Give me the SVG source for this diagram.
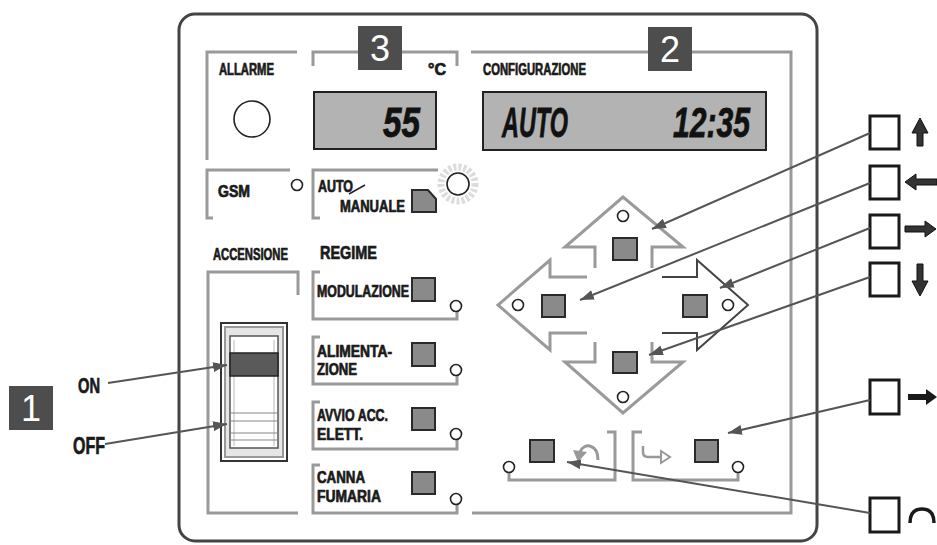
<svg xmlns="http://www.w3.org/2000/svg" width="937" height="545" viewBox="0 0 937 545">
<style>
.g{fill:none;stroke:#9a9a9a;stroke-width:3}
.t{font-family:"Liberation Sans",Arial,sans-serif;font-weight:bold;fill:#1a1a1a;stroke:#1a1a1a;stroke-width:0.7}
.d{font-family:"Liberation Sans",Arial,sans-serif;font-weight:bold;font-style:italic;fill:#111;stroke:#111;stroke-width:0.8;font-size:43px}
.sq{fill:#8a8a8a;stroke:#2a2a2a;stroke-width:2}
.c{fill:#fff;stroke:#222;stroke-width:1.6}
.badge{fill:#4d4d4d}
.bt{font-family:"Liberation Sans",Arial,sans-serif;fill:#fff;font-size:36px;text-anchor:middle}
.lb{fill:#fff;stroke:#1a1a1a;stroke-width:3}
.cn{fill:none;stroke:#555;stroke-width:2;marker-end:url(#ah)}
.sym{fill:#333;stroke:#111;stroke-width:1}
</style>
<defs>
<marker id="ah" viewBox="0 0 14 10" refX="14" refY="5" markerWidth="14" markerHeight="10" markerUnits="userSpaceOnUse" orient="auto">
<path d="M0,0 L14,5 L0,10 z" fill="#555"/>
</marker>
</defs>
<rect width="937" height="545" fill="#fff"/>
<g id="frame"><rect x="179" y="14" width="638" height="527" rx="16" fill="none" stroke="#444" stroke-width="3"/></g>

<g id="allarme">
<path class="g" d="M297 52 H207 V160"/>
<text class="t" x="219" y="75" font-size="16" textLength="55" lengthAdjust="spacingAndGlyphs">ALLARME</text>
<circle class="c" cx="252" cy="119" r="18"/>
</g>

<g id="temp">
<path class="g" d="M313 66 V52 H457 V66"/>
<text class="t" x="428" y="75" font-size="16" textLength="18" lengthAdjust="spacingAndGlyphs">°C</text>
<rect x="314" y="92" width="122" height="57" fill="#b3b3b3" stroke="#222" stroke-width="2"/>
<text class="d" x="383" y="137" textLength="37" lengthAdjust="spacingAndGlyphs">55</text>
</g>

<g id="config">
<path class="g" d="M471 52 H791 V513 H472"/>
<text class="t" x="483" y="75" font-size="16" textLength="103" lengthAdjust="spacingAndGlyphs">CONFIGURAZIONE</text>
<rect x="483" y="92" width="283" height="58" fill="#b3b3b3" stroke="#222" stroke-width="2"/>
<text class="d" x="502" y="137" textLength="66" lengthAdjust="spacingAndGlyphs">AUTO</text>
<text class="d" x="673" y="137" textLength="77" lengthAdjust="spacingAndGlyphs">12:35</text>
</g>

<g id="badge3"><rect class="badge" x="358" y="26" width="44" height="44"/><text class="bt" x="380" y="61">3</text></g>
<g id="badge2"><rect class="badge" x="648" y="27" width="44" height="44"/><text class="bt" x="670" y="62">2</text></g>
<g id="badge1"><rect class="badge" x="9" y="386" width="44" height="44"/><text class="bt" x="31" y="421">1</text></g>

<g id="gsm">
<path class="g" d="M290 170 H207 V218 H213"/>
<text class="t" x="218" y="197" font-size="16" textLength="32" lengthAdjust="spacingAndGlyphs">GSM</text>
<circle class="c" cx="297" cy="185" r="5.5"/>
</g>

<g id="automanuale">
<path class="g" d="M438 170 H313 V218 H320"/>
<text class="t" x="318" y="192" font-size="16" textLength="35" lengthAdjust="spacingAndGlyphs">AUTO</text>
<text class="t" x="340" y="212" font-size="16" textLength="65" lengthAdjust="spacingAndGlyphs">MANUALE</text>
<path d="M349 194 L365 185" stroke="#222" stroke-width="1.5" fill="none"/>
<polygon points="412,190 428,190 436,199 436,212 412,212" fill="#8a8a8a" stroke="#2a2a2a" stroke-width="2"/>
<circle cx="458" cy="184" r="17" fill="none" stroke="#dcdcdc" stroke-width="7" stroke-dasharray="3 2"/>
<circle class="c" cx="458" cy="184" r="11"/>
</g>

<g id="accensione">
<text class="t" x="213" y="260" font-size="16" textLength="75" lengthAdjust="spacingAndGlyphs">ACCENSIONE</text>
<path class="g" d="M298 295 V272 H208 V513 H298"/>
<rect x="221" y="323" width="66" height="138" fill="#fff" stroke="#333" stroke-width="2"/>
<rect x="225" y="327" width="58" height="130" fill="#e6e6e6" stroke="#999" stroke-width="2"/>
<rect x="230" y="336" width="48" height="112" fill="#fff" stroke="#555" stroke-width="1.5"/>
<line x1="234" y1="340" x2="234" y2="446" stroke="#bbb" stroke-width="1"/>
<line x1="274" y1="340" x2="274" y2="446" stroke="#bbb" stroke-width="1"/>
<rect x="230" y="353" width="48" height="23" fill="#5a5a5a" stroke="#222" stroke-width="1.5"/>
<g stroke="#888" stroke-width="1.2">
<line x1="230" y1="413" x2="278" y2="413"/>
<line x1="230" y1="421" x2="278" y2="421"/>
<line x1="230" y1="433" x2="278" y2="433"/>
<line x1="230" y1="440" x2="278" y2="440"/>
</g>
<text class="t" x="78" y="393" font-size="22" textLength="22" lengthAdjust="spacingAndGlyphs">ON</text>
<text class="t" x="73" y="454" font-size="23" textLength="32" lengthAdjust="spacingAndGlyphs">OFF</text>
</g>

<g id="regime">
<text class="t" x="320" y="259" font-size="18" textLength="57" lengthAdjust="spacingAndGlyphs">REGIME</text>
</g>
<g id="modulazione">
<path class="g" d="M320 272 H313 V319 H457 V311"/>
<text class="t" x="317" y="297" font-size="16" textLength="92" lengthAdjust="spacingAndGlyphs">MODULAZIONE</text>
<rect class="sq" x="412" y="278" width="23" height="23"/>
<circle class="c" cx="456" cy="306" r="5.5"/>
</g>
<g id="alimentazione">
<path class="g" d="M320 337 H313 V384 H457 V376"/>
<text class="t" x="317" y="357" font-size="16" textLength="75" lengthAdjust="spacingAndGlyphs">ALIMENTA-</text>
<text class="t" x="317" y="375" font-size="16" textLength="40" lengthAdjust="spacingAndGlyphs">ZIONE</text>
<rect class="sq" x="412" y="343" width="23" height="23"/>
<circle class="c" cx="456" cy="370" r="5.5"/>
</g>
<g id="avvio">
<path class="g" d="M320 402 H313 V449 H457 V440"/>
<text class="t" x="317" y="421" font-size="16" textLength="71" lengthAdjust="spacingAndGlyphs">AVVIO ACC.</text>
<text class="t" x="317" y="440" font-size="16" textLength="46" lengthAdjust="spacingAndGlyphs">ELETT.</text>
<rect class="sq" x="412" y="408" width="23" height="22"/>
<circle class="c" cx="456" cy="434" r="5.5"/>
</g>
<g id="canna">
<path class="g" d="M320 465 H313 V513 H457 V505"/>
<text class="t" x="317" y="483" font-size="16" textLength="48" lengthAdjust="spacingAndGlyphs">CANNA</text>
<text class="t" x="317" y="502" font-size="16" textLength="64" lengthAdjust="spacingAndGlyphs">FUMARIA</text>
<rect class="sq" x="412" y="472" width="23" height="22"/>
<circle class="c" cx="456" cy="499" r="5.5"/>
</g>

<g id="arrow-up">
<path class="g" d="M595 268 V247 H565 L623 197 L683 247 H652 V268"/>
<circle class="c" cx="623" cy="216" r="5.5"/>
<rect class="sq" x="613" y="238" width="24" height="22"/>
</g>
<g id="arrow-left">
<path class="g" d="M587 277 H550 V260 L498 305 L550 350 V333 H587"/>
<circle class="c" cx="518" cy="305" r="5.5"/>
<rect class="sq" x="542" y="295" width="23" height="22"/>
</g>
<g id="arrow-right">
<path d="M662 277 H697 V260 L748 305 L697 350 V333 H662" fill="none" stroke="#444" stroke-width="2"/>
<circle class="c" cx="728" cy="305" r="5.5"/>
<rect class="sq" x="683" y="295" width="24" height="22"/>
</g>
<g id="arrow-down">
<path class="g" d="M595 342 V362 H565 L623 413 L683 362 H652 V342"/>
<circle class="c" cx="623" cy="397" r="5.5"/>
<rect class="sq" x="613" y="352" width="24" height="21"/>
</g>

<g id="back">
<path class="g" d="M509 472 V480 H615 V432 H607"/>
<circle class="c" cx="509" cy="467" r="5.5"/>
<rect class="sq" x="530" y="440" width="24" height="22"/>
<path d="M598 460 C598 444 584 442 580 452" fill="none" stroke="#999" stroke-width="3"/>
<polygon points="573,450 587,452 578,462" fill="#999"/>
</g>
<g id="enter">
<path class="g" d="M642 432 H633 V480 H738 V472"/>
<circle class="c" cx="738" cy="467" r="5.5"/>
<rect class="sq" x="695" y="440" width="23" height="22"/>
<path d="M643 446 V452 Q643 457 648 457 H662" fill="none" stroke="#999" stroke-width="2.5"/>
<polygon points="661,451 670,457 661,463" fill="#fff" stroke="#999" stroke-width="2"/>
</g>

<g id="legend-up"><rect class="lb" x="870" y="116" width="29" height="33"/><polygon class="sym" points="920,118 928,133 923,133 923,146 917,146 917,133 912,133"/></g>
<g id="legend-left"><rect class="lb" x="870" y="166" width="29" height="33"/><polygon class="sym" points="905,182 916,174 916,179 937,179 937,185 916,185 916,190"/></g>
<g id="legend-right"><rect class="lb" x="870" y="215" width="29" height="33"/><polygon class="sym" points="936,229 925,221 925,226 905,226 905,232 925,232 925,237"/></g>
<g id="legend-down"><rect class="lb" x="870" y="263" width="29" height="33"/><polygon class="sym" points="920,296 928,281 923,281 923,264 917,264 917,281 912,281"/></g>
<g id="legend-enter"><rect class="lb" x="870" y="380" width="29" height="34"/><polygon points="937,397 926,389 926,394 908,394 908,400 926,400 926,405" fill="#1a1a1a"/></g>
<g id="legend-back"><rect class="lb" x="870" y="498" width="29" height="34"/><path d="M910 523 Q910 509 922 509 Q934 509 934 523" fill="none" stroke="#1a1a1a" stroke-width="3.5"/></g>

<g id="connectors">
<path class="cn" d="M870 133 L652 229"/>
<path class="cn" d="M870 183 L580 300"/>
<path class="cn" d="M870 228 L720 288"/>
<path class="cn" d="M870 277 L649 355"/>
<path class="cn" d="M870 400 L728 433"/>
<path class="cn" d="M870 513 L567 462"/>
<path class="cn" d="M108 383 L227 365"/>
<path class="cn" d="M105 444 L227 424"/>
</g>
</svg>
